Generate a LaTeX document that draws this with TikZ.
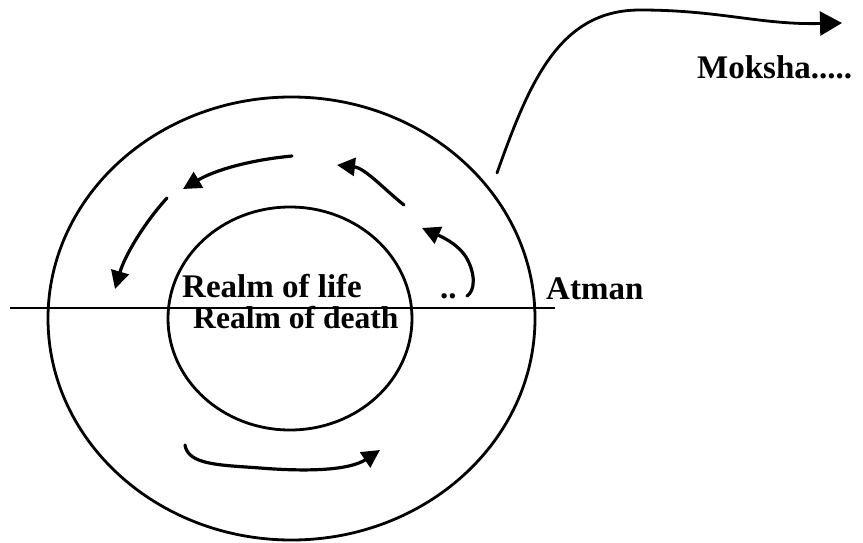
\documentclass[tikz,border=0pt]{standalone}
\usepackage{fontspec}
\setmainfont{Liberation Serif}
\usetikzlibrary{arrows.meta,shapes.geometric}
\begin{document}
\begin{tikzpicture}[x=1pt,y=-1pt,
  ring/.style={draw, ellipse, line width=2.8pt, inner sep=0pt},
  lbl/.style={font=\fontsize{33}{36}\selectfont\bfseries, anchor=base west, inner sep=0pt},
  flow/.style={line width=3.2pt, line cap=round, -{Triangle[length=18pt,width=18pt]}},
  big/.style={line width=2.8pt, line cap=round, -{Triangle[length=22pt,width=24pt]}}]
\useasboundingbox[fill=white] (0,0) rectangle (863,543);
\node[ring, minimum width=487pt, minimum height=443pt] (outer) at (291.5,318.5) {};
\node[ring, minimum width=244pt, minimum height=223pt] (inner) at (290,318.5) {};
\coordinate (lineL) at (10,308);
\coordinate (lineR) at (555,308);
\draw[line width=2.6pt] (lineL) -- (lineR);
\node[lbl] (life) at (182,297) {Realm of life};
\node[lbl, font=\fontsize{31.6}{36}\selectfont\bfseries] (death) at (193,328) {Realm of death};
\node[lbl] (atman) at (546,299) {Atman};
\node[lbl] (moksha) at (697,78) {Moksha.....};
\node[lbl] (dots) at (440,298) {..};
% inner circulating arrows
\coordinate (a1s) at (292,156);
\coordinate (a1e) at (183,189);
\draw[flow] (a1s) .. controls (250,160) and (215,170) .. (a1e);
\coordinate (a2s) at (167,198);
\coordinate (a2e) at (115,289);
\draw[flow] (a2s) .. controls (145,222) and (125,255) .. (a2e);
\coordinate (a3s) at (404,205);
\coordinate (a3e) at (337,165);
\draw[flow] (a3s) .. controls (385,190) and (365,168) .. (a3e);
\coordinate (a4s) at (467,296);
\coordinate (a4m) at (466,257);
\coordinate (a4e) at (422,228);
\draw[flow] (a4s) .. controls (475,291) and (476,274) .. (a4m) .. controls (457,243) and (440,236) .. (a4e);
\coordinate (a5s) at (185,445);
\coordinate (a5m) at (260,468);
\coordinate (a5e) at (380,450);
\draw[flow] (a5s) .. controls (188,465) and (220,465) .. (a5m) .. controls (310,472) and (350,470) .. (a5e);
% way out to Moksha
\coordinate (ms) at (497,173);
\coordinate (mm) at (640,10);
\coordinate (me) at (842,23);
\draw[big] (ms) .. controls (530,80) and (560,10) .. (mm) .. controls (720,10) and (760,25) .. (me);
\end{tikzpicture}
\end{document}
